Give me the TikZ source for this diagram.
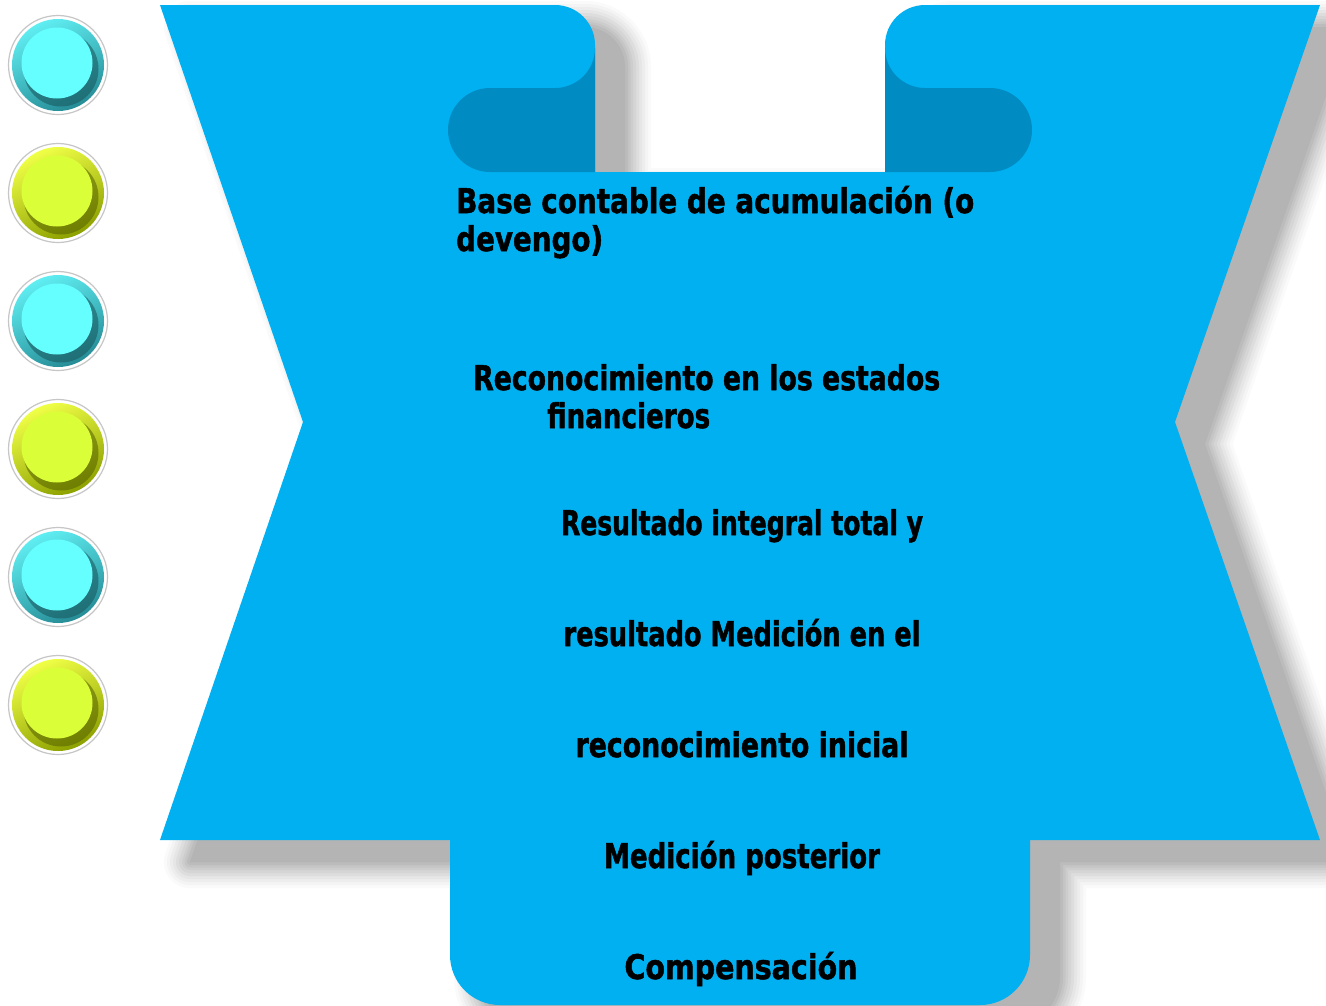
\documentclass[tikz,border=0pt]{standalone}
\usepackage{fontspec}
\usepackage{graphicx}
\newfontfamily\lblfont[FakeBold=1.6]{DejaVu Sans}
\definecolor{mainblue}{RGB}{0,176,240}
\definecolor{darkblue}{RGB}{0,140,194}
\definecolor{shadowc}{RGB}{180,180,180}
\definecolor{cyc}{RGB}{102,255,255}
\definecolor{cyl}{RGB}{95,238,242}
\definecolor{cyd}{RGB}{38,140,150}
\definecolor{yec}{RGB}{218,255,56}
\definecolor{yel}{RGB}{240,255,70}
\definecolor{yed}{RGB}{140,160,0}
\newcommand\fitw[2]{\resizebox{#1pt}{\height}{#2}}
\def\mainpath{(160,5) -- (555,5) arc (270:360:40) -- (595,172) -- (885,172) -- (885,45) arc (180:270:40) -- (1320,5) -- (1175,422) -- (1320,840) -- (1030,840) -- (1030,955) arc (0:90:50) -- (500,1005) arc (90:180:50) -- (450,840) -- (160,840) -- (303,422) -- cycle}
\tikzset{
  lbl/.style={font=\lblfont\bfseries\fontsize{34}{34}\selectfont, inner sep=0pt, text=black},
  ringrim/.style={draw=gray!45, line width=1.2pt, fill=white},
}
\begin{document}
\begin{tikzpicture}[x=1pt,y=-1pt]
\fill[white] (0,0) rectangle (1326,1005);
\useasboundingbox (0,0) rectangle (1326,1005);
% shadow
\begin{scope}[shift={(30,22)}]
\foreach \p/\w in {6/52,14/46,24/40,34/34,45/28,56/22,67/16,78/11,89/6}{
  \draw[line join=round, draw=shadowc!\p!white, line width=\w pt] \mainpath;
}
\fill[shadowc] \mainpath;
\end{scope}
% main shape
\fill[mainblue] \mainpath;
% rolled tabs
\fill[darkblue] (595,172) -- (490,172) arc (90:270:42) -- (555,88) arc (90:0:40) -- cycle;
\fill[darkblue] (885,172) -- (990,172) arc (90:-90:42) -- (925,88) arc (90:180:40) -- cycle;
% circles
\foreach \k/\cl/\cd/\cc in {0/cyl/cyd/cyc,1/yel/yed/yec,2/cyl/cyd/cyc,3/yel/yed/yec,4/cyl/cyd/cyc,5/yel/yed/yec}{
  \coordinate (c\k) at (58,65+128*\k);
  \draw[ringrim] (c\k) circle (49.5);
  \shade[top color=\cl, bottom color=\cd, shading angle=25] (c\k) circle (46);
  \fill[\cd!60!black, opacity=0.55] ([shift={(3,4)}]c\k) circle (37.5);
  \fill[\cc] ([shift={(-1,-2)}]c\k) circle (35.5);
}
% texts
\node[lbl, anchor=base west] (t1) at (456,213) {\fitw{518}{Base contable de acumulación (o}};
\node[lbl, anchor=base west] (t2) at (456,251) {\fitw{147}{devengo)}};
\node[lbl, anchor=base west] (t3) at (473,390) {\fitw{467}{Reconocimiento en los estados}};
\node[lbl, anchor=base west] (t4) at (547,428) {\fitw{163}{financieros}};
\node[lbl, anchor=base] (t5) at (742,535) {\fitw{362}{Resultado integral total y}};
\node[lbl, anchor=base] (t6) at (742,646) {\fitw{357}{resultado Medición en el}};
\node[lbl, anchor=base] (t7) at (742,757) {\fitw{333}{reconocimiento inicial}};
\node[lbl, anchor=base] (t8) at (742,868) {\fitw{276}{Medición posterior}};
\node[lbl, anchor=base] (t9) at (741,979) {\fitw{233}{Compensación}};
\end{tikzpicture}
\end{document}
